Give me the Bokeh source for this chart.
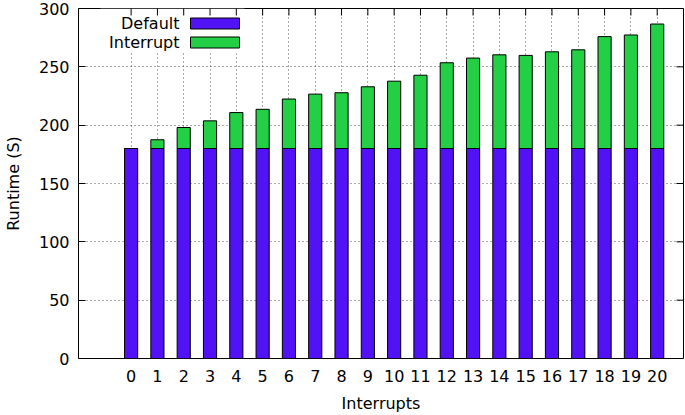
import math
from bokeh.plotting import figure
from bokeh.models import (ColumnDataSource, FixedTicker, Range1d, Label, BoxAnnotation)
from bokeh.embed import file_html
from bokeh.resources import INLINE

# ---- data ----
interrupts = list(range(21))
default_rt = [180] * 21
interrupt_rt = [0, 7.5, 18, 23.7, 30.8, 33.6, 42.4, 46.6, 47.8, 52.9, 57.7,
                62.8, 73.5, 77.5, 80.3, 79.8, 82.9, 84.6, 95.9, 97.3, 106.7]
y_ticks = [0, 50, 100, 150, 200, 250, 300]
x_lo, x_hi = -2, 21
series_names = ["Default", "Interrupt"]
series_colors = ["#5212f6", "#22cf45"]
x_title = "Interrupts"
y_title = "Runtime (S)"

FONT = "DejaVu Sans"
FS = "16px"

W, H = 685, 415
BL, BR, BT, BB = 77, 2, 8, 56
FW, FH = W - BL - BR, H - BT - BB

src = ColumnDataSource(dict(x=interrupts, Default=default_rt, Interrupt=interrupt_rt))

p = figure(width=W, height=H, output_backend="svg", toolbar_location=None,
           x_range=Range1d(x_lo, x_hi), y_range=Range1d(y_ticks[0], y_ticks[-1]),
           min_border_left=BL, min_border_right=BR, min_border_top=BT,
           min_border_bottom=BB)
p.background_fill_color = "white"
p.border_fill_color = "white"
p.outline_line_color = "black"
p.outline_line_width = 1

p.vbar_stack(series_names, x="x", width=0.5, source=src, color=series_colors,
             line_color="black", line_width=1)

xt = FixedTicker(ticks=interrupts)
yt = FixedTicker(ticks=y_ticks)

# bottom axis
xa = p.xaxis[0]
xa.ticker = xt
xa.axis_label = x_title
xa.major_tick_in = 0
xa.major_tick_out = 0
xa.minor_tick_line_color = None
xa.axis_line_color = None
xa.major_label_standoff = 11
xa.axis_label_standoff = 9

# left axis
ya = p.yaxis[0]
ya.ticker = yt
ya.axis_label = y_title
ya.major_tick_in = 7
ya.major_tick_out = 0
ya.minor_tick_line_color = None
ya.axis_line_color = None
ya.major_label_standoff = 9
ya.axis_label_standoff = 13

for ax in (xa, ya):
    ax.major_label_text_font = FONT
    ax.major_label_text_font_size = FS
    ax.major_label_text_color = "black"
    ax.axis_label_text_font = FONT
    ax.axis_label_text_font_size = FS
    ax.axis_label_text_font_style = "normal"
    ax.axis_label_text_color = "black"
    ax.major_tick_line_color = "black"

# mirrored ticks on top and right edges (half of each dash is clipped by the frame)
p.scatter(x=interrupts, y=[y_ticks[-1]] * len(interrupts), marker="dash",
          angle=math.pi / 2, size=14, line_color="black", line_width=1)
p.scatter(x=[x_hi] * len(y_ticks), y=y_ticks, marker="dash",
          size=14, line_color="black", line_width=1)

# grid
p.xgrid.ticker = xt
p.ygrid.ticker = yt
for g in (p.xgrid, p.ygrid):
    g.grid_line_color = "#555555"
    g.grid_line_dash = "1 3"
    g.grid_line_width = 1

# legend (gnuplot style: text then swatch), opaque key area
p.add_layout(BoxAnnotation(left=22, right=166, top=FH - 1, bottom=FH - 44,
                           left_units="screen", right_units="screen",
                           top_units="screen", bottom_units="screen",
                           fill_color="white", fill_alpha=1, line_color=None,
                           level="underlay"))
rows_y = [FH - 16, FH - 35]
for name, col, yy in zip(series_names, series_colors, rows_y):
    p.add_layout(Label(x=101, y=yy, x_units="screen", y_units="screen", text=name,
                       text_align="right", text_baseline="middle",
                       text_font=FONT, text_font_size=FS, text_color="black"))
    p.add_layout(BoxAnnotation(left=112, right=161, top=yy + 5.5, bottom=yy - 5.5,
                               left_units="screen", right_units="screen",
                               top_units="screen", bottom_units="screen",
                               fill_color=col, fill_alpha=1, line_color="black",
                               line_width=1, line_alpha=1))

open("out.html", "w").write(file_html(p, INLINE))
